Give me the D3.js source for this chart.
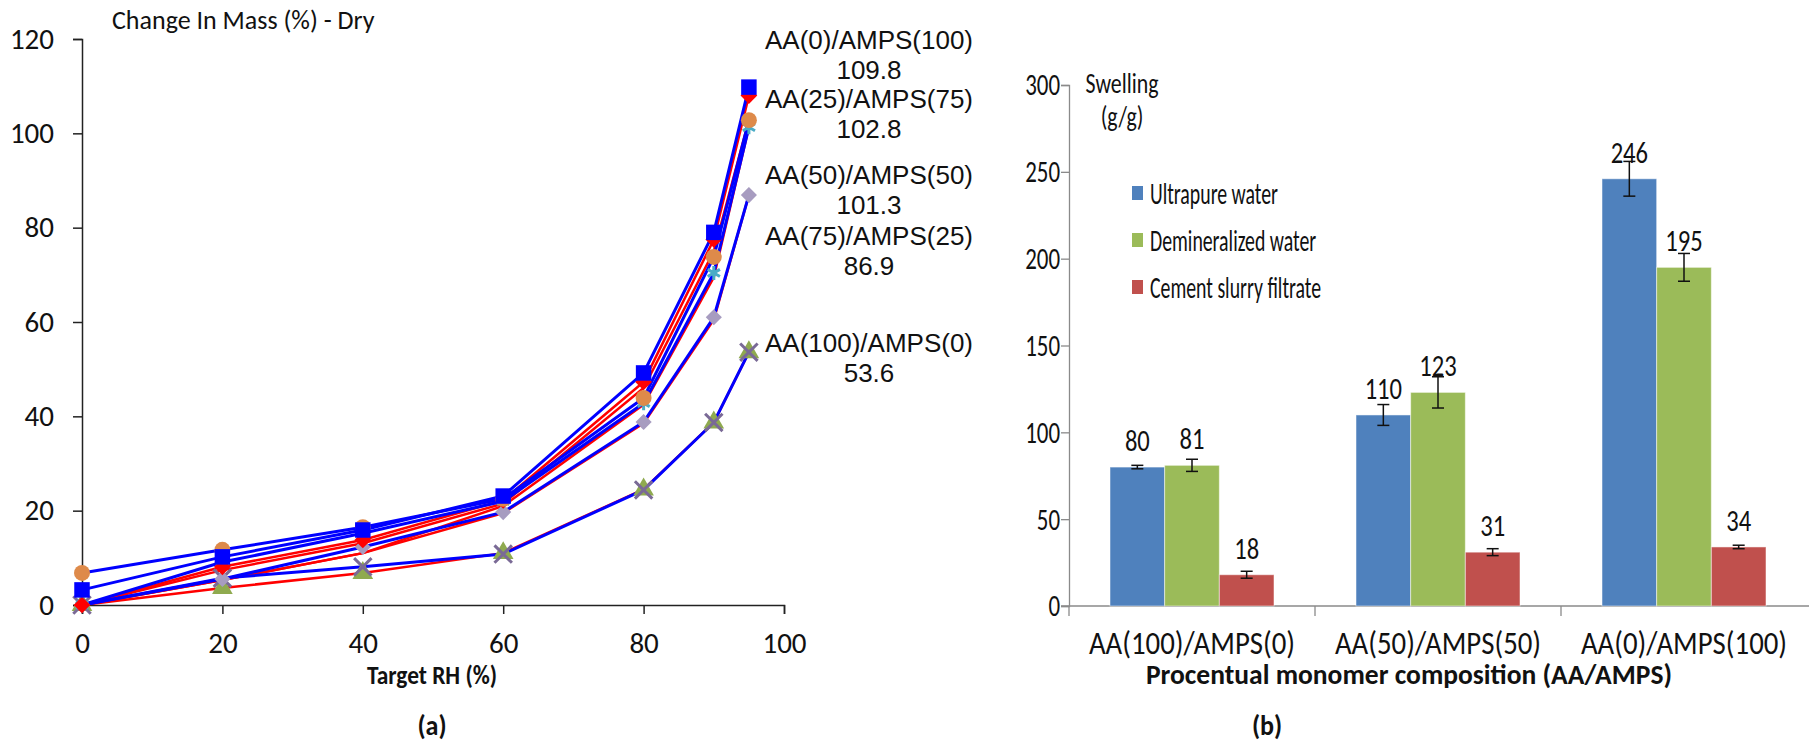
<!DOCTYPE html>
<html>
<head>
<meta charset="utf-8">
<script src="https://cdn.jsdelivr.net/npm/d3@7"></script>
<style>
  body { margin: 0; background: #fff; }
  svg { display: block; }
</style>
</head>
<body>
<div id="chart"></div>
<script>
// ---- data, panel (a): change in mass vs target RH ----
const targetRH = [0, 20, 40, 60, 80, 90, 95];

// blue lines
const blueAA0   = [3.2, 10.2, 15.9, 23.1, 49.2, 79.0, 109.8];
const blueAA25  = [6.8, 11.7, 16.5, 22.5, 43.9, 73.8, 102.8];
const blueAA50  = [0, 9.1, 15.2, 22.0, 42.8, 70.4, 101.3];
const blueAA75  = [0, 5.5, 12.3, 19.7, 38.8, 61.0, 86.9];
const blueAA100 = [0, 5.7, 8.1, 10.8, 24.4, 38.7, 53.6];
// red lines
const redAA0   = [0, 8.1, 13.8, 22.2, 47.3, 77.5, 108.0];
const redAA25  = [0, 7.4, 13.1, 21.5, 46.0, 75.0, 102.8];
const redAA50  = [0, 5.3, 11.0, 21.0, 42.5, 69.5, 101.3];
const redAA75  = [0, 5.3, 11.0, 19.5, 38.5, 60.5, 86.9];
const redAA100 = [0, 3.6, 6.8, 11.0, 24.5, 38.7, 53.6];

const endLabels = ["AA(0)/AMPS(100)", "AA(25)/AMPS(75)", "AA(50)/AMPS(50)", "AA(75)/AMPS(25)", "AA(100)/AMPS(0)"];
const endValues = ["109.8", "102.8", "101.3", "86.9", "53.6"];

// ---- data, panel (b): swelling ----
const compositions = ["AA(100)/AMPS(0)", "AA(50)/AMPS(50)", "AA(0)/AMPS(100)"];
const media = ["Ultrapure water", "Demineralized water", "Cement slurry filtrate"];
const swellUltra  = [80, 110, 246];
const swellDemin  = [81, 123, 195];
const swellCement = [18, 31, 34];
const errUltra  = [1, 6, 10];
const errDemin  = [3.5, 9, 8];
const errCement = [2, 2, 1];

const width = 1809, height = 742;
const svg = d3.select('#chart').append('svg')
    .attr('width', width)
    .attr('height', height);

const calibri = "Carlito, Calibri, Lato, sans-serif";

// text squeezed horizontally (panel b looks narrow)
function narrowText(parent, str, x, y, size, sx, anchor, bold) {
  return parent.append('text').text(str)
     .attr('transform', `translate(${x},${y}) scale(${sx},1)`)
     .attr('text-anchor', anchor || 'start')
     .attr('font-family', calibri)
     .attr('font-weight', bold ? 'bold' : 'normal')
     .attr('font-size', size)
     .attr('fill', '#111');
}

// ================= panel (a) =================
let xScale = d3.scaleLinear().domain([0, 100]).range([82, 784]);
let yScale = d3.scaleLinear().domain([0, 120]).range([605, 39]);

let yAxis = svg.append('g')
    .attr('transform', `translate(${xScale(0)},0)`)
    .call(d3.axisLeft(yScale).tickValues(d3.range(0, 121, 20)).tickSize(9).tickPadding(19));
let xAxis = svg.append('g')
    .attr('transform', `translate(0,${yScale(0)})`)
    .call(d3.axisBottom(xScale).tickValues(d3.range(0, 101, 20)).tickSize(9).tickSizeOuter(9).tickPadding(18));
[yAxis, xAxis].forEach(ax => {
  ax.select('.domain').attr('stroke', '#222').attr('stroke-width', 1.5);
  ax.selectAll('.tick line').attr('stroke', '#222').attr('stroke-width', 1.5);
  ax.selectAll('text').attr('font-family', calibri).attr('font-size', 29).attr('fill', '#111');
});

svg.append('text')
    .text('Change In Mass (%) - Dry')
    .attr('x', 112).attr('y', 29)
    .attr('font-family', calibri).attr('font-size', 26).attr('fill', '#111');

narrowText(svg, 'Target RH (%)', 432, 684, 26, 0.9, 'middle', true);
narrowText(svg, '(a)', 432, 735, 29, 0.9, 'middle', true);

let line = d3.line()
    .x((d, i) => xScale(targetRH[i]))
    .y(d => yScale(d));

// red lines first, blue on top
[redAA100, redAA75, redAA50, redAA25, redAA0].forEach(s => {
  svg.append('path').datum(s)
     .attr('d', line).attr('fill', 'none')
     .attr('stroke', '#ff0000').attr('stroke-width', 2.5);
});
[blueAA100, blueAA75, blueAA50, blueAA25, blueAA0].forEach(s => {
  svg.append('path').datum(s)
     .attr('d', line).attr('fill', 'none')
     .attr('stroke', '#0000ff').attr('stroke-width', 3);
});

// markers
const markerSets = [
  { data: redAA100,  type: d3.symbolTriangle, size: 185, fill: '#8faa4f', rot: 0 },
  { data: blueAA100, type: d3.symbolX,        size: 200, stroke: '#7a6a96', rot: 0 },
  { data: blueAA75,  type: d3.symbolSquare,   size: 130, fill: '#a79cc0', rot: 45 },
  { data: blueAA50,  type: d3.symbolAsterisk, size: 140, stroke: '#4bacc6', rot: 0 },
  { data: redAA0,    type: d3.symbolSquare,   size: 140, fill: '#ff0000', rot: 45 },
  { data: blueAA25,  type: d3.symbolCircle,   size: 200, fill: '#de8a4a', rot: 0 },
  { data: blueAA0,   type: d3.symbolSquare,   size: 240, fill: '#0000ff', rot: 0 }
];
markerSets.forEach(m => {
  svg.append('g').selectAll('path')
     .data(m.data)
     .enter().append('path')
     .attr('d', d3.symbol().type(m.type).size(m.size))
     .attr('transform', (d, i) => `translate(${xScale(targetRH[i])},${yScale(d)}) rotate(${m.rot})`)
     .attr('fill', m.fill || 'none')
     .attr('stroke', m.stroke || 'none')
     .attr('stroke-width', m.stroke ? 3 : 0);
});

// end annotations
const endY = [40, 99, 175, 236, 343];
endLabels.forEach((lab, i) => {
  svg.append('text').text(lab)
     .attr('x', 869).attr('y', endY[i] + 9)
     .attr('text-anchor', 'middle')
     .attr('font-family', 'Liberation Sans, Arial, sans-serif').attr('font-size', 26).attr('fill', '#111');
  svg.append('text').text(endValues[i])
     .attr('x', 869).attr('y', endY[i] + 39)
     .attr('text-anchor', 'middle')
     .attr('font-family', 'Liberation Sans, Arial, sans-serif').attr('font-size', 26).attr('fill', '#111');
});

// ================= panel (b) =================
let x0 = d3.scaleBand().domain(compositions).range([1069, 1807]).paddingInner(0).paddingOuter(0);
let x1 = d3.scaleBand().domain(media).range([0, x0.bandwidth()]).paddingInner(0).paddingOuter(0.75);
let y = d3.scaleLinear().domain([0, 300]).range([606, 85]);

const color = d3.scaleOrdinal().domain(media).range(['#4f81bd', '#9bbb59', '#c0504d']);

let yAxisB = svg.append('g')
    .attr('transform', `translate(1069,0)`)
    .call(d3.axisLeft(y).tickValues(d3.range(0, 301, 50)).tickSize(8).tickPadding(4));
yAxisB.select('.domain').attr('stroke', '#8a8a8a').attr('stroke-width', 1.3);
yAxisB.selectAll('.tick line').attr('stroke', '#8a8a8a').attr('stroke-width', 1.3);
yAxisB.selectAll('text')
    .attr('font-family', calibri).attr('font-size', 31).attr('fill', '#111')
    .attr('x', -9 / 0.74)
    .attr('transform', 'scale(0.74,1)');

// baseline and category separators
svg.append('line')
   .attr('x1', 1061).attr('x2', width).attr('y1', y(0)).attr('y2', y(0))
   .attr('stroke', '#8a8a8a').attr('stroke-width', 1.3);
compositions.forEach(c => {
  svg.append('line')
     .attr('x1', x0(c)).attr('x2', x0(c)).attr('y1', y(0)).attr('y2', y(0) + 10)
     .attr('stroke', '#8a8a8a').attr('stroke-width', 1.3);
  narrowText(svg, c, x0(c) + x0.bandwidth() / 2, y(0) + 48, 32, 0.9, 'middle');
});

narrowText(svg, 'Procentual monomer composition (AA/AMPS)', 1409, 684, 29, 0.95, 'middle', true);
narrowText(svg, '(b)', 1267, 735, 29, 0.9, 'middle', true);

narrowText(svg, 'Swelling', 1122, 93, 28, 0.78, 'middle');
narrowText(svg, '(g/g)', 1122, 126, 28, 0.78, 'middle');

const swellData = [
  { medium: media[0], values: swellUltra, errs: errUltra },
  { medium: media[1], values: swellDemin, errs: errDemin },
  { medium: media[2], values: swellCement, errs: errCement }
];

swellData.forEach(s => {
  compositions.forEach((c, i) => {
    const bx = x0(c) + x1(s.medium);
    const v = s.values[i], e = s.errs[i];
    svg.append('rect')
       .attr('x', bx).attr('y', y(v))
       .attr('width', x1.bandwidth()).attr('height', y(0) - y(v))
       .attr('fill', color(s.medium))
       .attr('stroke', '#ffffff').attr('stroke-opacity', 0.5).attr('stroke-width', 1);
    const cx = bx + x1.bandwidth() / 2;
    svg.append('line')
       .attr('x1', cx).attr('x2', cx).attr('y1', y(v + e)).attr('y2', y(v - e))
       .attr('stroke', '#111').attr('stroke-width', 1.5);
    [v + e, v - e].forEach(t => {
      svg.append('line')
         .attr('x1', cx - 6).attr('x2', cx + 6).attr('y1', y(t)).attr('y2', y(t))
         .attr('stroke', '#111').attr('stroke-width', 1.5);
    });
    narrowText(svg, v, cx, y(v) - 16, 30, 0.82, 'middle');
  });
});

// legend
const legend = svg.append('g');
const legendY = [193, 240, 287];
media.forEach((m, i) => {
  legend.append('rect')
     .attr('x', 1132).attr('y', legendY[i] - 7)
     .attr('width', 11).attr('height', 14)
     .attr('fill', color(m));
  narrowText(legend, m, 1150, legendY[i] + 11, 30, 0.66, 'start');
});
</script>
</body>
</html>
